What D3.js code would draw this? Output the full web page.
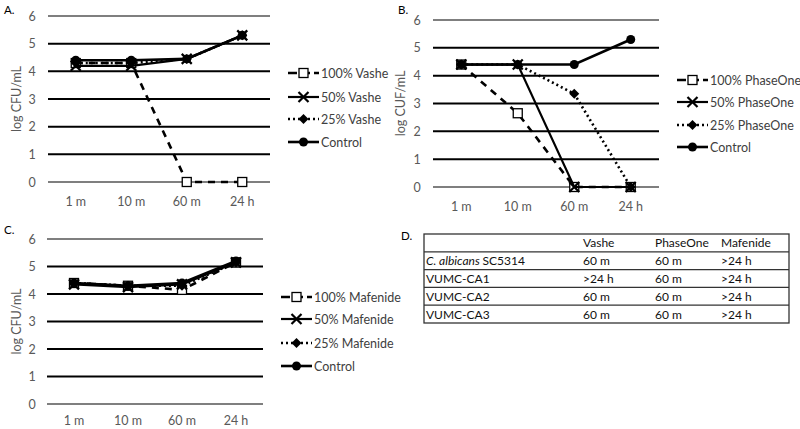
<!DOCTYPE html>
<html><head><meta charset="utf-8">
<script src="https://cdn.jsdelivr.net/npm/d3@7"></script>
<style>body{margin:0;background:#fff}svg{display:block}text{font-family:Lato,"Open Sans",sans-serif}</style>
</head><body><svg id="c" width="800" height="429"></svg>
<script>
const categories = ["1 m","10 m","60 m","24 h"];
const yTicks = [0,1,2,3,4,5,6];
// Panel A
const vashe100 = [4.3,4.3,0,0];
const vashe50  = [4.2,4.2,4.45,5.3];
const vashe25  = [4.3,4.3,4.45,5.3];
const vasheCtl = [4.4,4.4,4.45,5.3];
// Panel B
const phase100 = [4.4,2.65,0,0];
const phase50  = [4.4,4.4,0,0];
const phase25  = [4.4,4.4,3.35,0];
const phaseCtl = [4.4,4.4,4.4,5.3];
// Panel C
const maf100 = [4.4,4.3,4.15,5.15];
const maf50  = [4.35,4.25,4.35,5.15];
const maf25  = [4.4,4.3,4.3,5.15];
const mafCtl = [4.4,4.3,4.4,5.2];
// Table D
const tableHeader = ["","Vashe","PhaseOne","Mafenide"];
const tableStrains = ["SC5314","VUMC-CA1","VUMC-CA2","VUMC-CA3"];
const tableVashe = ["60 m",">24 h","60 m","60 m"];
const tablePhase = ["60 m","60 m","60 m","60 m"];
const tableMaf = [">24 h",">24 h",">24 h",">24 h"];

const svg = d3.select("#c");
const styles = [
  {dash:"7,6", w:2.6, marker:"square"},
  {dash:null, w:2.2, marker:"x"},
  {dash:"2,3", w:2.6, marker:"diamond"},
  {dash:null, w:2.6, marker:"circle"}
];

function drawMarker(g, type, x, y){
  if(type==="square") g.append("rect").attr("x",x-4.5).attr("y",y-4.5).attr("width",9).attr("height",9).attr("fill","#fff").attr("stroke","#000").attr("stroke-width",1.3);
  else if(type==="circle") g.append("circle").attr("cx",x).attr("cy",y).attr("r",4.5).attr("fill","#000");
  else if(type==="diamond") g.append("path").attr("d",`M${x},${y-5}L${x+5},${y}L${x},${y+5}L${x-5},${y}Z`).attr("fill","#000");
  else if(type==="x") g.append("path").attr("d",`M${x-5},${y-5}L${x+5},${y+5}M${x-5},${y+5}L${x+5},${y-5}`).attr("stroke","#000").attr("stroke-width",2.2);
}

function panel(o){
  const g = svg.append("g");
  const x = d3.scalePoint().domain(categories).range([o.x0,o.x1]).padding(0.5);
  const y = d3.scaleLinear().domain([0,6]).range([o.yb,o.yt]);
  g.selectAll("line.grid").data(yTicks).join("line")
    .attr("x1",o.x0).attr("x2",o.x1).attr("y1",d=>y(d)).attr("y2",d=>y(d))
    .attr("stroke","#000").attr("stroke-width",d=>(d===0||d===6)?1.1:2);
  g.selectAll("text.yt").data(yTicks).join("text")
    .attr("x",o.tx).attr("y",d=>y(d)+4.5).attr("text-anchor","middle")
    .attr("font-size",12.5).attr("fill","#595959").text(d=>d);
  g.selectAll("text.xt").data(categories).join("text")
    .attr("x",d=>x(d)).attr("y",o.yb+o.xoff).attr("text-anchor","middle")
    .attr("font-size",12.5).attr("fill","#595959").text(d=>d);
  g.append("text").attr("transform",`translate(${o.lx},${(o.yt+o.yb)/2}) rotate(-90)`)
    .attr("text-anchor","middle").attr("font-size",12.5).attr("fill","#595959").text(o.ytitle);
  g.append("text").attr("x",o.px).attr("y",o.py).attr("font-size",11.5).attr("fill","#000").text(o.plabel);
  const line = d3.line().x((d,i)=>x(categories[i])).y(d=>y(d));
  o.series.forEach((s,k)=>{
    const st = styles[k];
    g.append("path").attr("d",line(s)).attr("fill","none").attr("stroke","#000")
      .attr("stroke-width",st.w).attr("stroke-dasharray",st.dash);
    s.forEach((v,i)=>drawMarker(g, st.marker, x(categories[i]), y(v)));
  });
  o.names.forEach((n,k)=>{
    const st = styles[k];
    const ly = o.legY[k];
    g.append("line").attr("x1",o.legX).attr("x2",o.legX+31).attr("y1",ly).attr("y2",ly)
      .attr("stroke","#000").attr("stroke-width",st.w).attr("stroke-dasharray",st.dash?(k===0?"9,4":"2,3"):null);
    drawMarker(g, st.marker, o.legX+15.5, ly);
    g.append("text").attr("x",o.legX+33).attr("y",ly+4.5).attr("font-size",12.5).attr("fill","#404040").text(n);
  });
}

panel({x0:48,x1:270,yt:16,yb:182,tx:32,lx:21,px:4,py:14,plabel:"A.",ytitle:"log CFU/mL",xoff:24,
  series:[vashe100,vashe50,vashe25,vasheCtl],
  names:["100% Vashe","50% Vashe","25% Vashe","Control"],legX:288,legY:[73,97,119,142]});
panel({x0:433,x1:659,yt:20,yb:187,tx:417,lx:405,px:398,py:14,plabel:"B.",ytitle:"log CUF/mL",xoff:24,
  series:[phase100,phase50,phase25,phaseCtl],
  names:["100% PhaseOne","50% PhaseOne","25% PhaseOne","Control"],legX:677,legY:[80,102,125,147]});
panel({x0:47,x1:263,yt:239,yb:404,tx:32,lx:21,px:4,py:234,plabel:"C.",ytitle:"log CFU/mL",xoff:21,
  series:[maf100,maf50,maf25,mafCtl],
  names:["100% Mafenide","50% Mafenide","25% Mafenide","Control"],legX:281,legY:[297,319,343,366]});

// Table D
const tg = svg.append("g");
tg.append("text").attr("x",401).attr("y",240).attr("font-size",11.5).text("D.");
const tx0=424, tx1=789;
const rowY = d3.scaleLinear().domain([0,5]).range([234,323]);
const colX = [426,583,655,721];
tg.append("rect").attr("x",tx0).attr("y",rowY(0)).attr("width",tx1-tx0).attr("height",rowY(5)-rowY(0))
  .attr("fill","none").attr("stroke","#333").attr("stroke-width",1.3);
d3.range(1,5).forEach(r=>tg.append("line").attr("x1",tx0).attr("x2",tx1).attr("y1",rowY(r)).attr("y2",rowY(r)).attr("stroke","#333").attr("stroke-width",1.3));
const fs=12;
tableHeader.forEach((h,c)=>tg.append("text").attr("x",colX[c]).attr("y",rowY(0.5)+4.5).attr("font-size",fs).attr("fill","#111").text(h));
tableStrains.forEach((s,r)=>{
  const ty = rowY(r+1.5)+4.5;
  const t = tg.append("text").attr("x",colX[0]).attr("y",ty).attr("font-size",fs).attr("fill","#111");
  if(r===0){ t.append("tspan").attr("font-style","italic").text("C. albicans "); }
  t.append("tspan").text(s);
  [tableVashe[r],tablePhase[r],tableMaf[r]].forEach((v,c)=>tg.append("text").attr("x",colX[c+1]).attr("y",ty).attr("font-size",fs).attr("fill","#111").text(v));
});
</script></body></html>
